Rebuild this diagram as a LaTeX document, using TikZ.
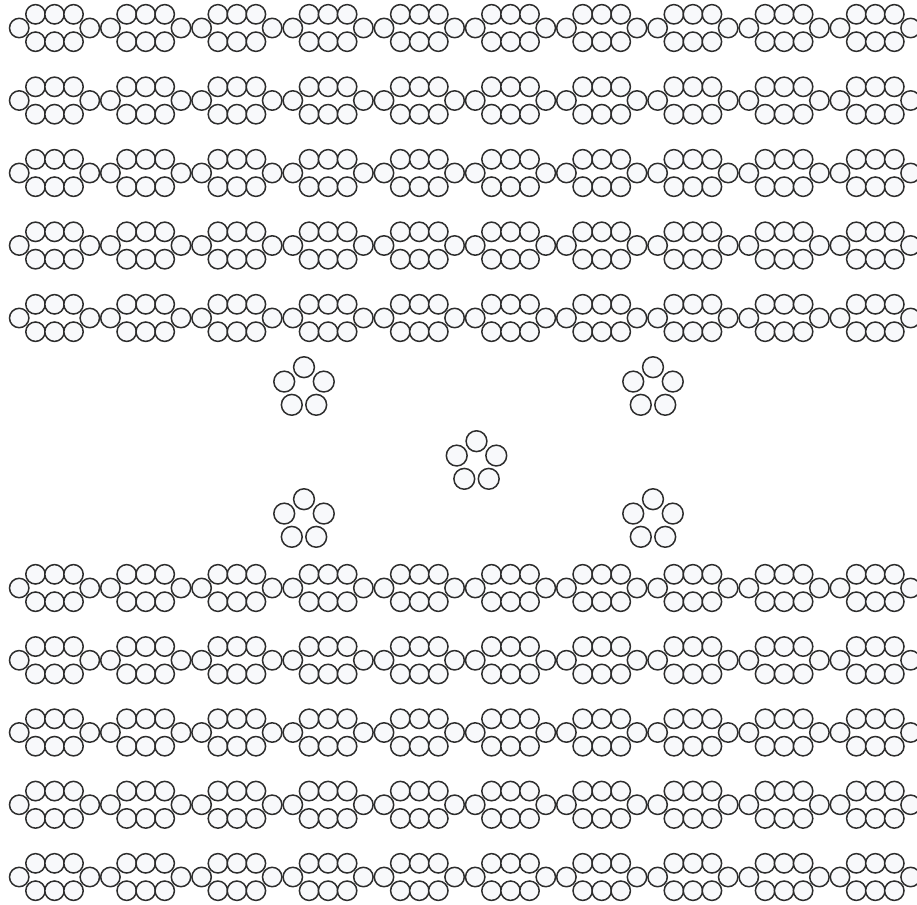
\documentclass[tikz,border=0pt]{standalone}
\definecolor{ballfill}{RGB}{248,249,251}
\definecolor{balledge}{RGB}{45,45,45}
\tikzset{ball/.style={fill=ballfill, draw=balledge, line width=1.5pt}}
\begin{document}
\begin{tikzpicture}[x=1pt, y=-1pt]
  \clip (0,0) rectangle (917,904);
  \foreach \cy in {28,100.5,173,245.5,318,588,660.25,732.5,804.75,877}
    \foreach \i in {0,...,9}
    {
      \pgfmathsetmacro{\cx}{54.5+91.2*\i}
      \foreach \dx/\dy in {-19/-13.7, 0/-13.7, 19/-13.7, -19/13.7, 0/13.7, 19/13.7, -35.3/0, 35.3/0}
        \draw[ball] (\cx+\dx,\cy+\dy) circle[radius=9.7];
    }
  \foreach \px/\py in {304/388, 653/388, 476.5/462, 304/520, 653/520}
    \foreach \a in {90,162,234,306,18}
      \draw[ball] ({\px+20.8*cos(\a)},{\py-20.8*sin(\a)}) circle[radius=10.4];
\end{tikzpicture}
\end{document}
